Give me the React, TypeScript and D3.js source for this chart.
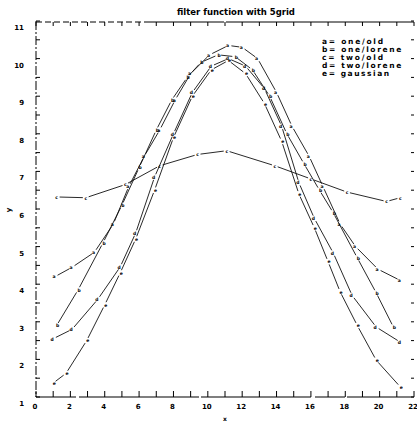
import React from "react";
import * as d3 from "d3";

const titleText = "filter function with 5grid";
const xTicks = [0, 2, 4, 6, 8, 10, 12, 14, 16, 18, 20, 22];
const yTicks = [1, 2, 3, 4, 5, 6, 7, 8, 9, 10, 11];
const legendLabels = ["a= one/old", "b= one/lorene", "c= two/old", "d= two/lorene", "e= gaussian"];

const aX = [1.1, 2.1, 3.4, 4.5, 5.4, 6.3, 7.2, 8.1, 9.0, 10.1, 11.2, 12.0, 12.9, 14.0, 14.9, 15.9, 16.7, 17.7, 18.6, 19.9, 21.2];
const aY = [4.2, 4.45, 4.85, 5.6, 6.6, 7.4, 8.1, 8.9, 9.6, 10.1, 10.35, 10.3, 10.0, 9.1, 8.2, 7.4, 6.6, 5.6, 5.0, 4.4, 4.1];

const bX = [1.2, 2.45, 3.9, 5.0, 6.0, 7.0, 7.9, 8.8, 9.6, 10.6, 11.6, 12.6, 13.6, 14.6, 15.6, 16.5, 17.3, 18.7, 19.8, 20.8];
const bY = [2.9, 3.85, 5.1, 6.1, 7.1, 8.1, 8.9, 9.5, 9.9, 10.1, 10.05, 9.7, 9.0, 8.0, 7.2, 6.5, 5.9, 4.7, 3.77, 2.86];

const cX = [1.2, 2.9, 5.2, 7.2, 9.4, 11.1, 13.9, 16.0, 18.1, 20.4, 21.2];
const cY = [6.32, 6.3, 6.65, 7.15, 7.45, 7.55, 7.15, 6.8, 6.45, 6.2, 6.3];

const dX = [1.0, 2.1, 3.6, 4.9, 5.8, 6.9, 8.0, 9.1, 10.2, 11.2, 12.2, 13.3, 14.3, 15.3, 16.2, 17.3, 18.4, 19.8, 21.2];
const dY = [2.55, 2.8, 3.6, 4.46, 5.36, 6.85, 8.0, 9.1, 9.8, 10.0, 9.8, 9.2, 8.2, 6.7, 5.75, 4.83, 3.7, 2.86, 2.46];

const eX = [1.0, 1.75, 2.95, 4.0, 4.9, 5.8, 6.9, 8.0, 9.1, 10.2, 11.2, 12.2, 13.3, 14.3, 15.3, 16.2, 17.0, 17.7, 18.7, 19.8, 21.2];
const eY = [1.37, 1.63, 2.5, 3.45, 4.3, 5.2, 6.5, 7.9, 9.0, 9.7, 9.95, 9.6, 8.8, 7.8, 6.4, 5.5, 4.6, 3.8, 2.9, 1.98, 1.27];

const series = [
  { mark: "a", xs: aX, ys: aY, dx: -2 },
  { mark: "b", xs: bX, ys: bY, dx: 2 },
  { mark: "c", xs: cX, ys: cY, dx: 0 },
  { mark: "d", xs: dX, ys: dY, dx: -2 },
  { mark: "e", xs: eX, ys: eY, dx: 2 },
];

const x = d3.scaleLinear().domain([0, 22]).range([36, 414]);
const y = d3.scaleLinear().domain([1, 11]).range([397, 21]);

const font = "DejaVu Sans, sans-serif";

export default function App() {
  const gap = 3;
  const segs: JSX.Element[] = [];
  series.forEach((s, si) => {
    for (let i = 0; i < s.xs.length - 1; i++) {
      const x1 = x(s.xs[i]), y1 = y(s.ys[i]);
      const x2 = x(s.xs[i + 1]), y2 = y(s.ys[i + 1]);
      const len = Math.hypot(x2 - x1, y2 - y1);
      if (len <= gap * 2) continue;
      const ux = (x2 - x1) / len, uy = (y2 - y1) / len;
      segs.push(
        <line key={si + "-" + i} x1={x1 + ux * gap} y1={y1 + uy * gap} x2={x2 - ux * gap} y2={y2 - uy * gap}
          stroke="#111" strokeWidth={0.9} />
      );
    }
  });

  const xMinor = d3.range(0, 23, 1);
  const yMinor = d3.range(1, 11.01, 0.5);

  return (
    <svg width={417} height={430} style={{ position: "absolute", left: 0, top: 0, background: "#fff" }}>
      <rect width={417} height={430} fill="#fff" />
      {/* title */}
      <text x={236} y={15} textAnchor="middle" fontFamily={font} fontWeight="bold" fontSize={8.5}>{titleText}</text>

      {/* frame */}
      <line x1={36} y1={21} x2={36} y2={397} stroke="#000" strokeWidth={1} strokeDasharray="9 2 2 2" />
      <line x1={36} y1={397} x2={414} y2={397} stroke="#000" strokeWidth={1.2} strokeDasharray="40 3 120 2 110 4 30 2 200" />
      <line x1={36} y1={22} x2={414} y2={22} stroke="#000" strokeWidth={1} strokeDasharray="6 3 6 3 6 3 6 3 6 3 6 3 6 3 6 3 6 3 6 3 6 3 6 3 80 2 400" />

      {xMinor.map((v) => (
        <g key={"xt" + v}>
          <line x1={x(v)} y1={397} x2={x(v)} y2={391} stroke="#000" strokeWidth={1} />
          <line x1={x(v)} y1={22} x2={x(v)} y2={26} stroke="#000" strokeWidth={1} />
        </g>
      ))}
      {yMinor.map((v) => (
        <g key={"yt" + v}>
          <line x1={36} y1={y(v)} x2={40} y2={y(v)} stroke="#000" strokeWidth={1} />
          <line x1={414} y1={y(v)} x2={411} y2={y(v)} stroke="#000" strokeWidth={1} />
        </g>
      ))}

      {xTicks.map((v) => (
        <text key={"xl" + v} x={x(v) - 1} y={409} textAnchor="middle" fontFamily={font} fontWeight="bold" fontSize={7}>{v}</text>
      ))}
      {yTicks.map((v) => (
        <text key={"yl" + v} x={24} y={y(v) + 9} textAnchor="end" fontFamily={font} fontWeight="bold" fontSize={7}>{v}</text>
      ))}
      <text x={225} y={421} textAnchor="middle" fontFamily={font} fontWeight="bold" fontSize={6}>x</text>
      <text transform="translate(11,210) rotate(-90)" textAnchor="middle" fontFamily={font} fontWeight="bold" fontSize={7}>y</text>

      {/* legend */}
      {legendLabels.map((t, i) => (
        <text key={t} x={322} y={44 + i * 8} fontFamily={font} fontSize={7.5} fontWeight="bold" textLength={t.length * 6.1}>{t}</text>
      ))}

      {segs}
      <g opacity={0.99}>
        {series.map((s) =>
          s.xs.map((xv, i) => (
            <text key={s.mark + i} x={x(xv) + s.dx * 0.5} y={y(s.ys[i]) + 1.8} textAnchor="middle" fontFamily={font} fontWeight="bold" fontSize={4.5}>{s.mark}</text>
          ))
        )}
      </g>
    </svg>
  );
}
